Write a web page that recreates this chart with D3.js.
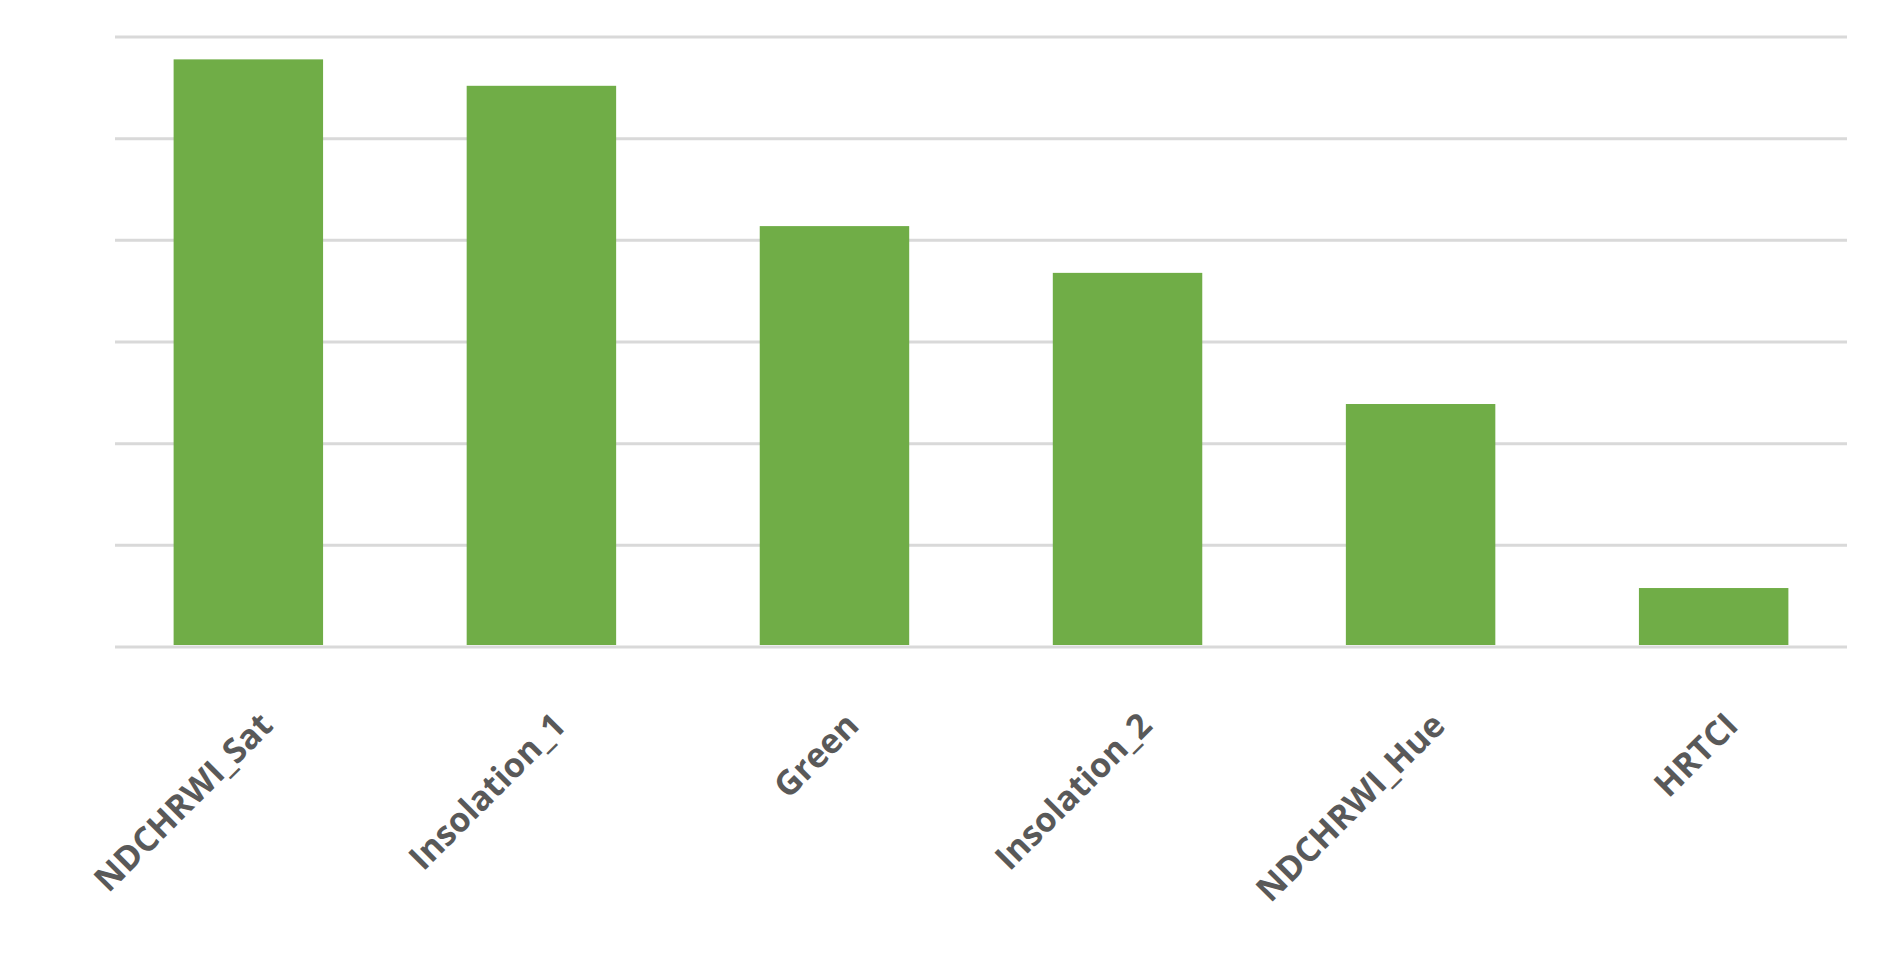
<!doctype html>
<html>
<head>
<script src="https://cdn.jsdelivr.net/npm/d3@7"></script>
<style>body{margin:0;background:#fff}</style>
</head>
<body>
<svg id="chart" width="1881" height="975"></svg>
<script>
var categories = ['NDCHRWI_Sat','Insolation_1','Green','Insolation_2','NDCHRWI_Hue','HRTCI'];
var values = [5.78, 5.52, 4.14, 3.68, 2.39, 0.58];
var yTicks = [0,1,2,3,4,5,6];

var svg = d3.select('#chart'),
    m = {left:115, right:34, top:37, bottom:328},
    w = 1881 - m.left - m.right,
    h = 975 - m.top - m.bottom;

var x = d3.scaleBand().domain(categories).range([0,w]).paddingInner(0.49).paddingOuter(0.2);
var y = d3.scaleLinear().domain([0,6]).range([h,0]);
var g = svg.append('g').attr('transform','translate('+m.left+','+m.top+')');

g.selectAll('line.grid').data(yTicks).enter().append('line')
  .attr('x1',0).attr('x2',w)
  .attr('y1',function(d){return y(d);}).attr('y2',function(d){return y(d);})
  .attr('stroke','#d9d9d9').attr('stroke-width',3);

g.selectAll('rect').data(values).enter().append('rect')
  .attr('x',function(d,i){return x(categories[i]);})
  .attr('width',x.bandwidth())
  .attr('y',function(d){return y(d);})
  .attr('height',function(d){return y(0)-y(d)-2;})
  .attr('fill','#70ad47');

var ax = g.append('g').attr('transform','translate(0,'+h+')')
  .call(d3.axisBottom(x).tickSize(0).tickPadding(0));
ax.select('.domain').remove();
ax.selectAll('text')
  .attr('font-family','Open Sans, sans-serif').attr('font-weight','bold')
  .attr('font-size',34).attr('fill','#595959')
  .attr('text-anchor','end').attr('dy','0.35em')
  .attr('transform','translate(18,72) rotate(-45)');
</script>
</body>
</html>
